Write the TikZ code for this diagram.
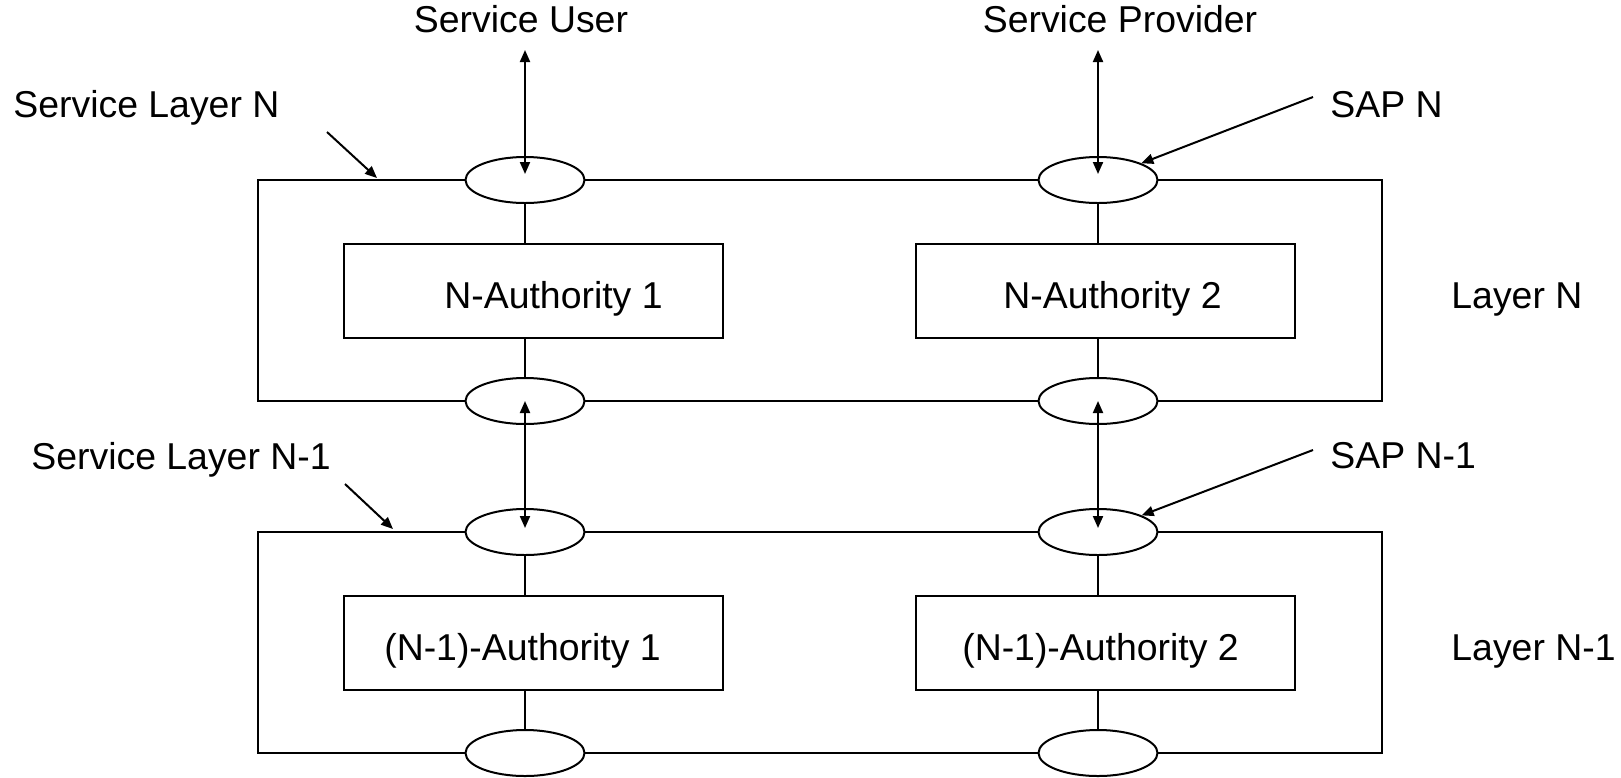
\documentclass[tikz,border=0pt]{standalone}
\usepackage{fontspec}
\setmainfont{Liberation Sans}
\usepackage{tikz}
\usetikzlibrary{calc}
\usetikzlibrary{shapes.geometric, arrows.meta}
\tikzstyle{txt} = [inner sep=0pt, font=\fontsize{18.7pt}{22pt}\selectfont]
\tikzstyle{frame} = [rectangle, minimum width=562pt, minimum height=110.5pt, draw=black, line width=1pt]
\tikzstyle{sap} = [ellipse, minimum width=59.5pt, minimum height=23pt, inner sep=0pt, draw=black, fill=white, line width=1pt]
\tikzstyle{entity} = [rectangle, minimum width=189.5pt, minimum height=47pt, text height=19pt, text depth=2pt, draw=black, line width=1pt, font=\fontsize{18.7pt}{22pt}\selectfont]
\tikzstyle{arrow} = [line width=1pt,-{Triangle[length=6pt,width=5pt]}]
\tikzstyle{biarrow} = [line width=1pt,{Triangle[length=6pt,width=5pt]}-{Triangle[length=6pt,width=5pt]}]

\begin{document}
\begin{tikzpicture}[x=0.5pt,y=-0.5pt]
\useasboundingbox (0,0) rectangle (1621,777);
\node(frameN)[frame] at (820,290.5){};
\node(frameM)[frame] at (820,642.5){};

\node(sapNa)[sap] at (525,180){};
\node(sapNb)[sap,right of=sapNa,node distance=286.5pt]{};
\node(sapNc)[sap,below of=sapNa,node distance=110.5pt]{};
\node(sapNd)[sap,right of=sapNc,node distance=286.5pt]{};
\node(sapMa)[sap,below of=sapNc,node distance=65.5pt]{};
\node(sapMb)[sap,right of=sapMa,node distance=286.5pt]{};
\node(sapMc)[sap,below of=sapMa,node distance=110.5pt]{};
\node(sapMd)[sap,right of=sapMc,node distance=286.5pt]{};

\node(authN1)[entity] at (533.5,291){\hspace*{20pt}N-Authority 1};
\node(authN2)[entity] at (1105.5,291){\hspace*{7pt}N-Authority 2};
\node(authM1)[entity] at (533.5,643){(N-1)-Authority 1\hspace*{11pt}};
\node(authM2)[entity] at (1105.5,643){(N-1)-Authority 2\hspace*{5pt}};

\node(user)[txt,anchor=base] at (521,32){Service User};
\node(provider)[txt,anchor=base] at (1120,32){Service Provider};
\node(slN)[txt,anchor=base west] at (13,117){Service Layer N};
\node(sapNtxt)[txt,anchor=base west] at (1330,117){SAP N};
\node(layN)[txt,anchor=base west] at (1451,308){Layer N};
\node(slM)[txt,anchor=base west] at (31,469){Service Layer N-1};
\node(sapMtxt)[txt,anchor=base west] at (1330,468){SAP N-1};
\node(layM)[txt,anchor=base west] at (1451,660){Layer N-1};

\coordinate(userTop) at (525,50);
\coordinate(provTop) at (1098,50);
\coordinate(slNtail) at (327,132);
\coordinate(slNhead) at (377,178);
\coordinate(sapNtail) at (1313,97);
\coordinate(slMtail) at (345,484);
\coordinate(slMhead) at (393,529);
\coordinate(sapMtail) at (1313,450);

\draw[line width=1pt] (sapNa) -- (sapNa |- authN1.north);
\draw[line width=1pt] (sapNc) -- (sapNc |- authN1.south);
\draw[line width=1pt] (sapNb) -- (sapNb |- authN2.north);
\draw[line width=1pt] (sapNd) -- (sapNd |- authN2.south);
\draw[line width=1pt] (sapMa) -- (sapMa |- authM1.north);
\draw[line width=1pt] (sapMc) -- (sapMc |- authM1.south);
\draw[line width=1pt] (sapMb) -- (sapMb |- authM2.north);
\draw[line width=1pt] (sapMd) -- (sapMd |- authM2.south);

\draw[biarrow,shorten >=3pt] (userTop) -- (sapNa.center);
\draw[biarrow,shorten >=3pt] (provTop) -- (sapNb.center);
\draw[biarrow,shorten >=2pt] (sapNc.center) -- (sapMa.center);
\draw[biarrow,shorten >=2pt] (sapNd.center) -- (sapMb.center);

\draw[arrow] (slNtail) -- (slNhead);
\draw[arrow] (sapNtail) -- (sapNb);
\draw[arrow] (slMtail) -- (slMhead);
\draw[arrow] (sapMtail) -- (sapMb);

\end{tikzpicture}
\end{document}
